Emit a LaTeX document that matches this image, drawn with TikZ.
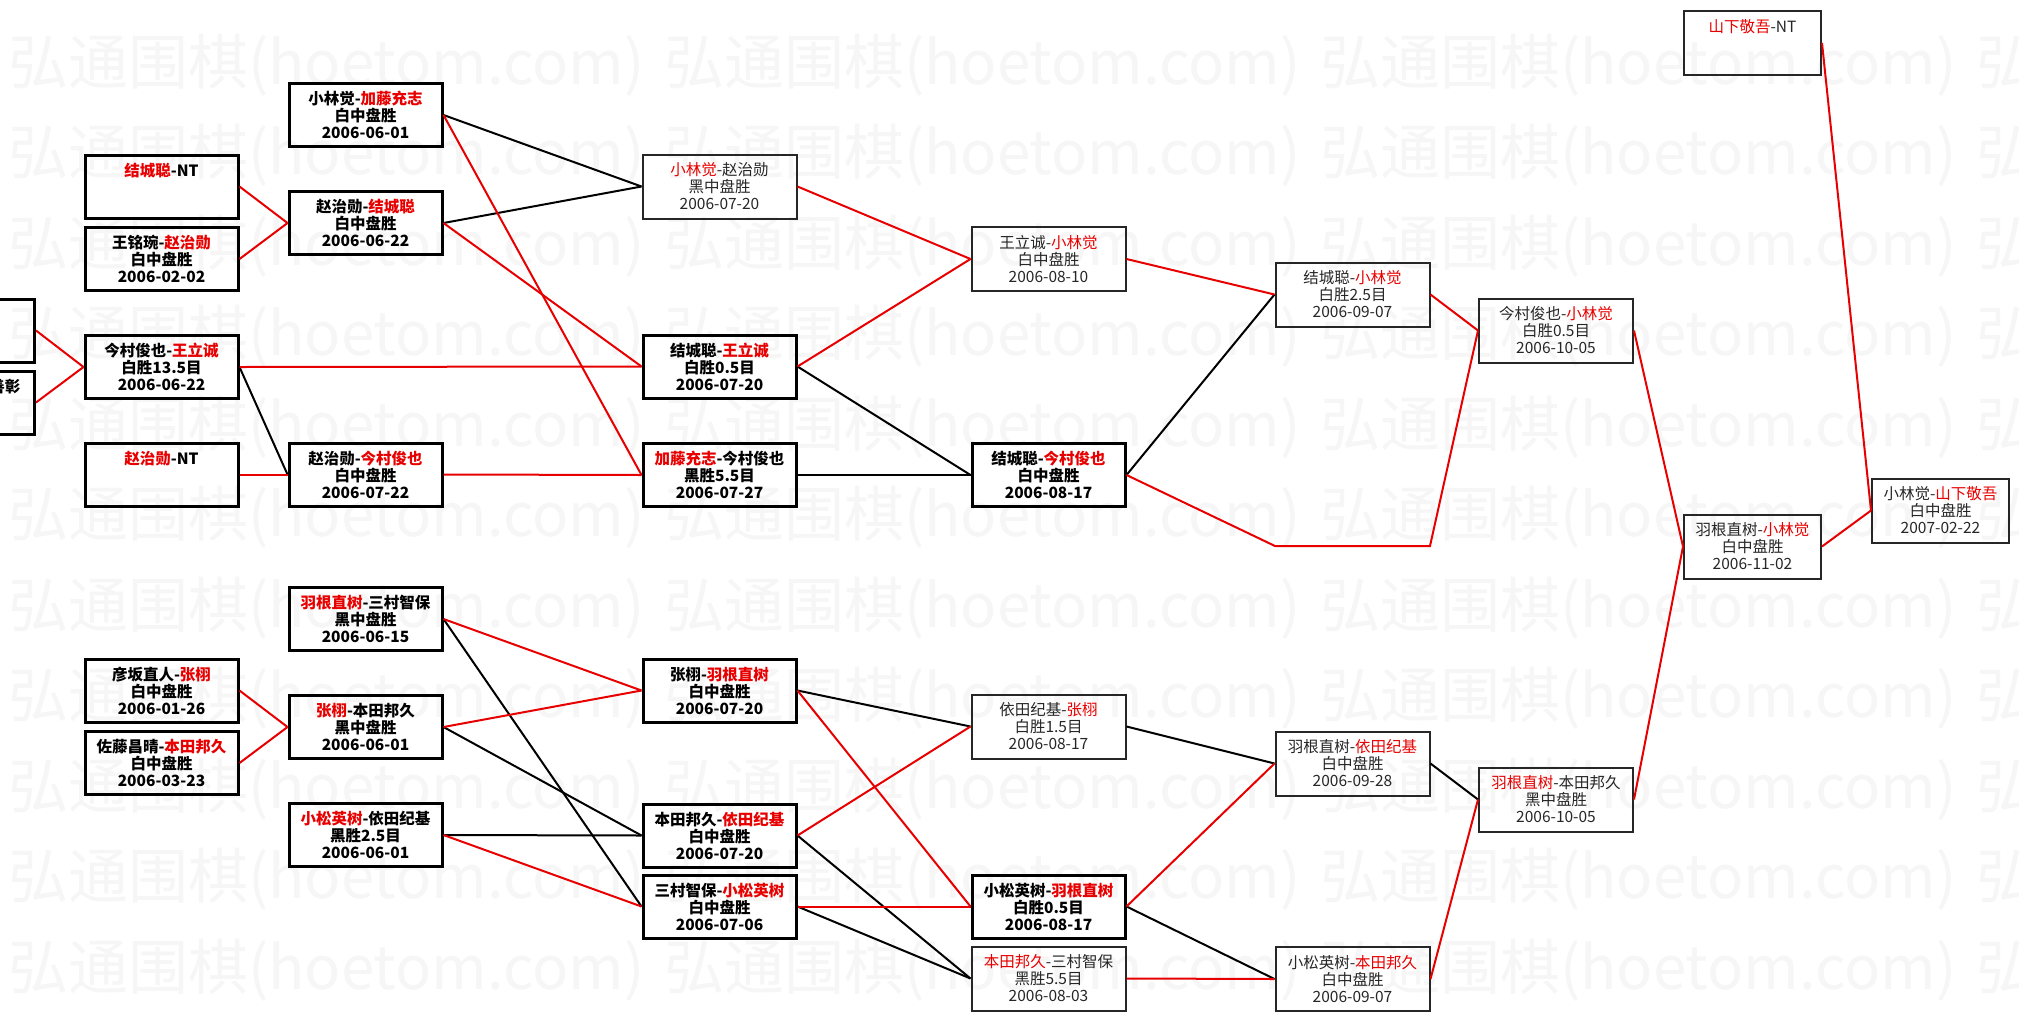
\documentclass[tikz,border=0pt]{standalone}
\usepackage{fontspec}
\setmainfont{Noto Sans CJK SC}
\definecolor{hired}{RGB}{232,0,0}
\definecolor{wmgray}{RGB}{246,246,246}
\newcommand{\winner}[1]{\textcolor{hired}{#1}}

\begin{document}
\begin{tikzpicture}[x=1pt,y=-1pt,
  game/.style={draw,line width=3pt,minimum width=153pt,minimum height=63pt,inner sep=0pt,align=center,font=\fontsize{15.5}{17}\selectfont\bfseries},
  later/.style={game,draw=black!85,line width=2pt,minimum width=154pt,minimum height=64pt,font=\fontsize{15.5}{17}\selectfont,text=black!85},
  narrow/.style={minimum width=137pt},
  win/.style={draw=hired,line width=2pt},
  lose/.style={draw=black,line width=2pt},
  wmtext/.style={font=\fontsize{60}{60}\selectfont,text=wmgray,inner sep=0pt,anchor=west}]
\path[use as bounding box,fill=white] (0,0) rectangle (2019,1021);
\clip (0,0) rectangle (2019,1021);
\foreach \k in {0,...,10}
  \foreach \n in {0,...,3}
    \node[wmtext] (wm\k\n) at (8+656*\n,65+90.5*\k) {弘通围棋(hoetom.com)};
\node[game] (a1) at (-42,330.5) {};
\node[game,text width=125pt,align=right] (a2) at (-42,402.5) {善彰\\~\\~};
\node[game] (b1) at (161.5,186.5) {\winner{结城聪}-NT\\~\\~};
\node[game] (b2) at (161.5,259) {王铭琬-\winner{赵治勋}\\白中盘胜\\2006-02-02};
\node[game] (b3) at (161.5,367) {今村俊也-\winner{王立诚}\\白胜13.5目\\2006-06-22};
\node[game] (b4) at (161.5,474.5) {\winner{赵治勋}-NT\\~\\~};
\node[game] (b5) at (161.5,690.5) {彦坂直人-\winner{张栩}\\白中盘胜\\2006-01-26};
\node[game] (b6) at (161.5,763) {佐藤昌晴-\winner{本田邦久}\\白中盘胜\\2006-03-23};
\node[game] (c1) at (365.5,115) {小林觉-\winner{加藤充志}\\白中盘胜\\2006-06-01};
\node[game] (c2) at (365.5,223) {赵治勋-\winner{结城聪}\\白中盘胜\\2006-06-22};
\node[game] (c3) at (365.5,474.5) {赵治勋-\winner{今村俊也}\\白中盘胜\\2006-07-22};
\node[game] (c4) at (365.5,619) {\winner{羽根直树}-三村智保\\黑中盘胜\\2006-06-15};
\node[game] (c5) at (365.5,727) {\winner{张栩}-本田邦久\\黑中盘胜\\2006-06-01};
\node[game] (c6) at (365.5,835) {\winner{小松英树}-依田纪基\\黑胜2.5目\\2006-06-01};
\node[later] (d1) at (719.5,186.5) {\winner{小林觉}-赵治勋\\黑中盘胜\\2006-07-20};
\node[game] (d2) at (719.5,366.5) {结城聪-\winner{王立诚}\\白胜0.5目\\2006-07-20};
\node[game] (d3) at (719.5,475) {\winner{加藤充志}-今村俊也\\黑胜5.5目\\2006-07-27};
\node[game] (d4) at (719.5,690.5) {张栩-\winner{羽根直树}\\白中盘胜\\2006-07-20};
\node[game] (d5) at (719.5,835.5) {本田邦久-\winner{依田纪基}\\白中盘胜\\2006-07-20};
\node[game] (d6) at (719.5,906.5) {三村智保-\winner{小松英树}\\白中盘胜\\2006-07-06};
\node[later] (e1) at (1048.5,259) {王立诚-\winner{小林觉}\\白中盘胜\\2006-08-10};
\node[game] (e2) at (1048.5,475) {结城聪-\winner{今村俊也}\\白中盘胜\\2006-08-17};
\node[later] (e3) at (1048.5,726.5) {依田纪基-\winner{张栩}\\白胜1.5目\\2006-08-17};
\node[game] (e4) at (1048.5,906.5) {小松英树-\winner{羽根直树}\\白胜0.5目\\2006-08-17};
\node[later] (e5) at (1048.5,978.5) {\winner{本田邦久}-三村智保\\黑胜5.5目\\2006-08-03};
\node[later] (f1) at (1352.5,294.5) {结城聪-\winner{小林觉}\\白胜2.5目\\2006-09-07};
\node[later] (f2) at (1352.5,763.5) {羽根直树-\winner{依田纪基}\\白中盘胜\\2006-09-28};
\node[later] (f3) at (1352.5,979) {小松英树-\winner{本田邦久}\\白中盘胜\\2006-09-07};
\node[later] (g1) at (1556,330.5) {今村俊也-\winner{小林觉}\\白胜0.5目\\2006-10-05};
\node[later] (g2) at (1556,799.5) {\winner{羽根直树}-本田邦久\\黑中盘胜\\2006-10-05};
\node[later,narrow] (h1) at (1752.5,43) {\winner{山下敬吾}-NT\\~\\~};
\node[later,narrow] (h2) at (1752.5,546.5) {羽根直树-\winner{小林觉}\\白中盘胜\\2006-11-02};
\node[later,narrow] (i1) at (1940.5,510.5) {小林觉-\winner{山下敬吾}\\白中盘胜\\2007-02-22};
\coordinate (byeIn) at (1275,546);
\coordinate (byeOut) at (1430,546);
\draw[lose] (b3.east) -- (c3.west);
\draw[lose] (c1.east) -- (d1.west);
\draw[lose] (c2.east) -- (d1.west);
\draw[lose] (d2.east) -- (e2.west);
\draw[lose] (d3.east) -- (e2.west);
\draw[lose] (e2.east) -- (f1.west);
\draw[lose] (c4.east) -- (d6.west);
\draw[lose] (c5.east) -- (d5.west);
\draw[lose] (c6.east) -- (d5.west);
\draw[lose] (d4.east) -- (e3.west);
\draw[lose] (d5.east) -- (e5.west);
\draw[lose] (d6.east) -- (e5.west);
\draw[lose] (e3.east) -- (f2.west);
\draw[lose] (e4.east) -- (f3.west);
\draw[lose] (f2.east) -- (g2.west);
\draw[win] (a1.east) -- (b3.west);
\draw[win] (a2.east) -- (b3.west);
\draw[win] (b1.east) -- (c2.west);
\draw[win] (b2.east) -- (c2.west);
\draw[win] (b3.east) -- (d2.west);
\draw[win] (b4.east) -- (c3.west);
\draw[win] (c1.east) -- (d3.west);
\draw[win] (c2.east) -- (d2.west);
\draw[win] (c3.east) -- (d3.west);
\draw[win] (d1.east) -- (e1.west);
\draw[win] (d2.east) -- (e1.west);
\draw[win] (e1.east) -- (f1.west);
\draw[win] (e2.east) -- (byeIn) -- (byeOut) -- (g1.west);
\draw[win] (f1.east) -- (g1.west);
\draw[win] (g1.east) -- (h2.west);
\draw[win] (g2.east) -- (h2.west);
\draw[win] (h1.east) -- (i1.west);
\draw[win] (h2.east) -- (i1.west);
\draw[win] (b5.east) -- (c5.west);
\draw[win] (b6.east) -- (c5.west);
\draw[win] (c4.east) -- (d4.west);
\draw[win] (c5.east) -- (d4.west);
\draw[win] (c6.east) -- (d6.west);
\draw[win] (d4.east) -- (e4.west);
\draw[win] (d5.east) -- (e3.west);
\draw[win] (d6.east) -- (e4.west);
\draw[win] (e4.east) -- (f2.west);
\draw[win] (e5.east) -- (f3.west);
\draw[win] (f3.east) -- (g2.west);
\end{tikzpicture}
\end{document}
